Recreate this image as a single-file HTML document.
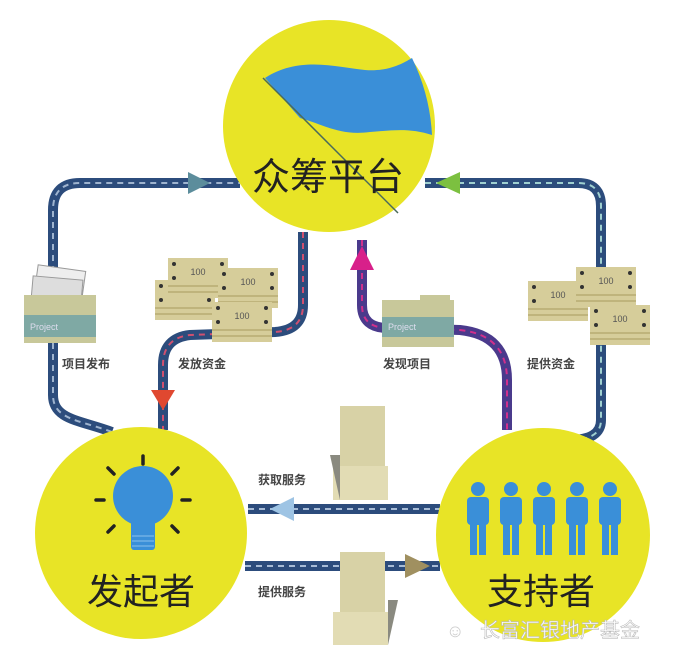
<!DOCTYPE html>
<html><head><meta charset="utf-8"><style>
html,body{margin:0;padding:0;background:#fff;}
svg{display:block;}
text{font-family:"Liberation Sans","Noto Sans CJK SC",sans-serif;}
</style></head><body>
<svg width="688" height="658" viewBox="0 0 688 658" xmlns="http://www.w3.org/2000/svg">
<defs>
<g id="bill">
<rect x="0" y="0" width="60" height="40" fill="#d6cd9a"/>
<line x1="0" y1="28" x2="60" y2="28" stroke="#bfb47c" stroke-width="2"/>
<line x1="0" y1="34" x2="60" y2="34" stroke="#bfb47c" stroke-width="2"/>
<circle cx="6" cy="6" r="2" fill="#333"/><circle cx="54" cy="6" r="2" fill="#333"/>
<circle cx="6" cy="20" r="2" fill="#333"/><circle cx="54" cy="20" r="2" fill="#333"/>
<text x="30" y="17" font-size="9" text-anchor="middle" fill="#555">100</text>
</g>
</defs>
<rect width="688" height="658" fill="#fff"/>

<!-- roads -->
<g fill="none" stroke-linecap="butt">
<path d="M112,432 C80,420 53,420 53,395 L53,210 Q53,183 80,183 L240,183" stroke="#2c4c7c" stroke-width="10"/>
<path d="M112,432 C80,420 53,420 53,395 L53,210 Q53,183 80,183 L240,183" stroke="#9fb4cf" stroke-width="2" stroke-dasharray="6 5"/>
<path d="M303,232 L303,305 Q303,330 275,332 L190,335 Q163,338 163,365 L163,430" stroke="#2c4c7c" stroke-width="10"/>
<path d="M303,232 L303,305 Q303,330 275,332 L190,335 Q163,338 163,365 L163,430" stroke="#d05070" stroke-width="2" stroke-dasharray="6 5"/>
<path d="M362,240 L362,305 Q362,328 388,328 L460,330 Q507,335 507,380 L507,430" stroke="#4a3a8c" stroke-width="10"/>
<path d="M362,240 L362,305 Q362,328 388,328 L460,330 Q507,335 507,380 L507,430" stroke="#d0308c" stroke-width="2" stroke-dasharray="6 5"/>
<path d="M425,183 L578,183 Q601,183 601,206 L601,420 Q601,440 570,440 Q550,440 545,432" stroke="#2c4c7c" stroke-width="10"/>
<path d="M425,183 L578,183 Q601,183 601,206 L601,420 Q601,440 570,440 Q550,440 545,432" stroke="#9fd0d0" stroke-width="2" stroke-dasharray="6 5"/>
<line x1="248" y1="509" x2="440" y2="509" stroke="#2c4c7c" stroke-width="10"/>
<line x1="248" y1="509" x2="440" y2="509" stroke="#a8bcd6" stroke-width="2" stroke-dasharray="6 5"/>
<line x1="245" y1="566" x2="440" y2="566" stroke="#2c4c7c" stroke-width="10"/>
<line x1="245" y1="566" x2="440" y2="566" stroke="#a8bcd6" stroke-width="2" stroke-dasharray="6 5"/>
</g>
<!-- arrows -->
<polygon points="188,172 210,183 188,194" fill="#5c8d9c"/>
<polygon points="460,172 436,183 460,194" fill="#7cc040"/>
<polygon points="151,390 175,390 163,410" fill="#e04830"/>
<polygon points="350,270 374,270 362,246" fill="#d8208a"/>
<polygon points="294,497 270,509 294,521" fill="#9ec4e4"/>
<polygon points="405,554 430,566 405,578" fill="#a09060"/>

<!-- top circle -->
<circle cx="329" cy="126" r="106" fill="#e8e426"/>
<path d="M265,78 C300,55 340,68 365,70 C390,72 405,62 412,58 Q430,95 432,135 C410,128 395,130 370,132 C340,136 325,125 300,118 Z" fill="#3a8fd8"/>
<line x1="263" y1="78" x2="398" y2="213" stroke="#4a6a5a" stroke-width="1.5"/>
<text x="328" y="190" font-size="38" text-anchor="middle" fill="#222">众筹平台</text>

<!-- left circle -->
<circle cx="141" cy="533" r="106" fill="#e8e426"/>
<g stroke="#222" stroke-width="3.5" stroke-linecap="round">
<line x1="143" y1="456" x2="143" y2="464"/>
<line x1="108" y1="468" x2="114" y2="474"/><line x1="178" y1="468" x2="172" y2="474"/>
<line x1="96" y1="500" x2="104" y2="500"/><line x1="182" y1="500" x2="190" y2="500"/>
<line x1="108" y1="532" x2="114" y2="526"/><line x1="178" y1="532" x2="172" y2="526"/>
</g>
<circle cx="143" cy="496" r="30" fill="#3a8fd8"/>
<rect x="131" y="518" width="24" height="32" rx="3" fill="#3a8fd8"/>
<g stroke="#7ab8e8" stroke-width="1.2"><line x1="132" y1="536" x2="154" y2="536"/><line x1="132" y1="541" x2="154" y2="541"/><line x1="132" y1="546" x2="154" y2="546"/></g>
<text x="141" y="604" font-size="36" text-anchor="middle" fill="#222">发起者</text>

<!-- right circle -->
<circle cx="543" cy="535" r="107" fill="#e8e426"/>
<g fill="#3a8fd8">
<g id="p"><circle cx="478" cy="489" r="7"/><rect x="467" y="497" width="22" height="28" rx="4"/><rect x="470" y="522" width="7" height="33"/><rect x="479" y="522" width="7" height="33"/></g>
<use href="#p" x="33"/><use href="#p" x="66"/><use href="#p" x="99"/><use href="#p" x="132"/>
</g>
<text x="541" y="604" font-size="36" text-anchor="middle" fill="#222">支持者</text>

<!-- folders -->
<g>
<rect x="36" y="268" width="48" height="28" fill="#eee" stroke="#999" transform="rotate(8 60 282)"/>
<rect x="32" y="278" width="50" height="25" fill="#ddd" stroke="#999" transform="rotate(5 57 290)"/>
<rect x="24" y="295" width="72" height="48" fill="#c8c89a"/>
<rect x="24" y="315" width="72" height="22" fill="#7fa9a4"/>
<text x="30" y="330" font-size="9" fill="#dde">Project</text>
</g>
<g>
<rect x="382" y="300" width="72" height="47" fill="#c8c89a"/>
<rect x="420" y="295" width="30" height="8" fill="#c8c89a"/>
<rect x="382" y="317" width="72" height="20" fill="#7fa9a4"/>
<text x="388" y="330" font-size="9" fill="#dde">Project</text>
</g>
<!-- money -->
<use href="#bill" x="155" y="280"/>
<use href="#bill" x="168" y="258"/>
<use href="#bill" x="218" y="268"/>
<use href="#bill" x="212" y="302"/>
<use href="#bill" x="528" y="281"/>
<use href="#bill" x="576" y="267"/>
<use href="#bill" x="590" y="305"/>

<!-- chairs -->
<g fill="#d8d2a6">
<rect x="340" y="406" width="45" height="60"/>
<rect x="333" y="466" width="55" height="34" fill="#e2dcb4"/>
<polygon points="330,455 340,455 340,500" fill="#8a8a80"/>
<rect x="340" y="552" width="45" height="60"/>
<rect x="333" y="612" width="55" height="33" fill="#e2dcb4"/>
<polygon points="388,600 398,600 388,645" fill="#8a8a80"/>
</g>

<!-- labels -->
<g font-size="12" font-weight="bold" fill="#444">
<text x="62" y="368">项目发布</text>
<text x="178" y="368">发放资金</text>
<text x="383" y="368">发现项目</text>
<text x="527" y="368">提供资金</text>
<text x="258" y="484">获取服务</text>
<text x="258" y="596">提供服务</text>
</g>
<text x="480" y="637" font-size="20" fill="#fff" stroke="#bbb" stroke-width="0.6">长富汇银地产基金</text>
<text x="446" y="637" font-size="18" fill="#ccc">☺</text>
</svg>
</body></html>
